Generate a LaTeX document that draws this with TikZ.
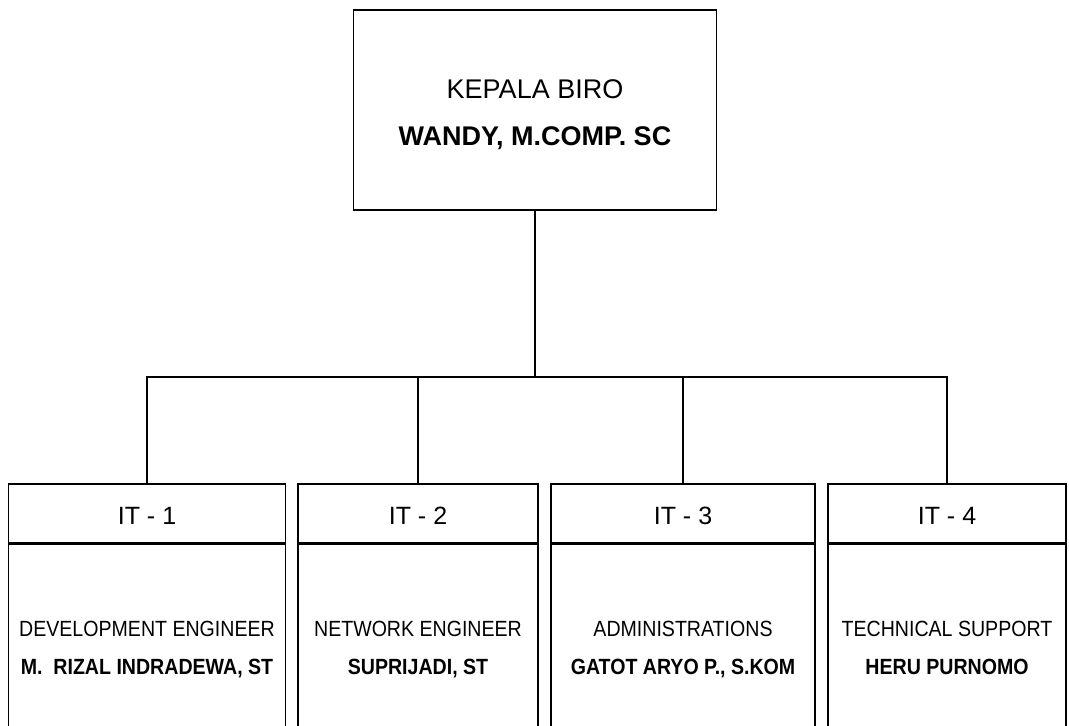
\documentclass[tikz,border=0pt]{standalone}
\usepackage{fontspec}
\setmainfont{Liberation Sans}
\newfontfamily\narrowfont[FakeStretch=0.89]{Liberation Sans}
\begin{document}
\begin{tikzpicture}[x=1pt,y=-1pt,
  box/.style={draw,line width=1.3pt,rectangle,inner sep=0pt},
  link/.style={line width=1.7pt},
  toptxt/.style={anchor=base,font=\fontsize{27}{32}\selectfont},
  headtxt/.style={anchor=base,font=\fontsize{25}{30}\selectfont},
  bodytxt/.style={anchor=base,font=\narrowfont\fontsize{22}{26}\selectfont},
  nametxt/.style={anchor=base,font=\narrowfont\fontsize{22}{26}\selectfont\bfseries}]
\clip (0,0) rectangle (1069,726);
\fill[white] (0,0) rectangle (1069,726);
% top box
\node[box,minimum width=363pt,minimum height=200pt] (top) at (535,110) {};
\node[toptxt] (t1) at (535,98) {KEPALA BIRO};
\node[toptxt,font=\fontsize{27}{32}\selectfont\bfseries] (t2) at (535,145) {WANDY, M.COMP. SC};
% headers
\node[box,minimum width=277pt,minimum height=59pt] (h1) at (147,513.5) {};
\node[box,minimum width=240pt,minimum height=59pt] (h2) at (418,513.5) {};
\node[box,minimum width=264pt,minimum height=59pt] (h3) at (683,513.5) {};
\node[box,minimum width=238pt,minimum height=59pt] (h4) at (947,513.5) {};
% bodies
\node[box,anchor=north,minimum width=277pt,minimum height=220pt] (b1) at (h1.south) {};
\node[box,anchor=north,minimum width=240pt,minimum height=220pt] (b2) at (h2.south) {};
\node[box,anchor=north,minimum width=264pt,minimum height=220pt] (b3) at (h3.south) {};
\node[box,anchor=north,minimum width=238pt,minimum height=220pt] (b4) at (h4.south) {};
% header texts
\node[headtxt] (ht1) at (147,524) {IT - 1};
\node[headtxt] (ht2) at (418,524) {IT - 2};
\node[headtxt] (ht3) at (683,524) {IT - 3};
\node[headtxt] (ht4) at (947,524) {IT - 4};
% body texts
\node[bodytxt] (r1) at (147,636) {DEVELOPMENT ENGINEER};
\node[nametxt] (n1) at (147,674) {M.~~RIZAL INDRADEWA, ST};
\node[bodytxt] (r2) at (418,636) {NETWORK ENGINEER};
\node[nametxt] (n2) at (418,674) {SUPRIJADI, ST};
\node[bodytxt] (r3) at (683,636) {ADMINISTRATIONS};
\node[nametxt] (n3) at (683,674) {GATOT ARYO P., S.KOM};
\node[bodytxt] (r4) at (947,636) {TECHNICAL SUPPORT};
\node[nametxt] (n4) at (947,674) {HERU PURNOMO};
% connectors
\coordinate (bus) at (535,377);
\draw[link] (top.south) -- (bus);
\draw[link] (h1.north) -- (h1.north |- bus) -- (h4.north |- bus) -- (h4.north);
\draw[link] (h2.north) -- (h2.north |- bus);
\draw[link] (h3.north) -- (h3.north |- bus);
\end{tikzpicture}
\end{document}
